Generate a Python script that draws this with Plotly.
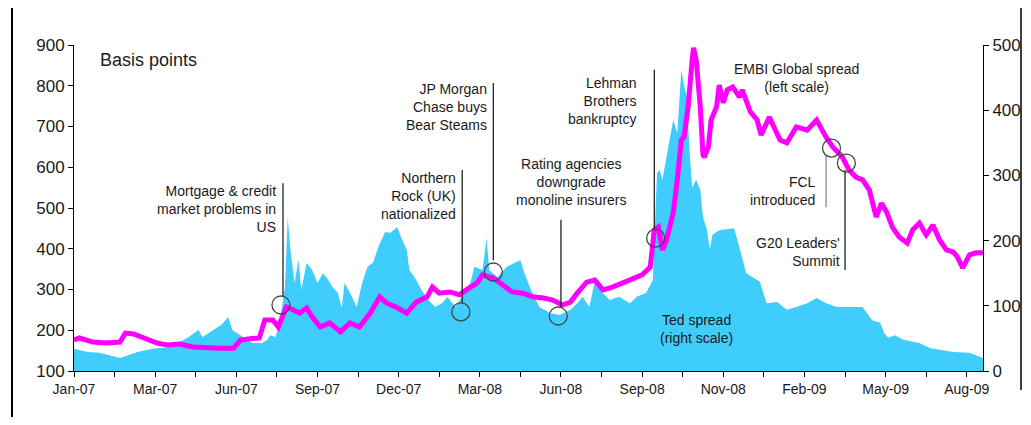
import plotly.graph_objects as go

# trading-day index (0 = start of Jan-07), one tick label every 60 trading days
tick_labels = ["Jan-07", "Mar-07", "Jun-07", "Sep-07", "Dec-07", "Mar-08",
               "Jun-08", "Sep-08", "Nov-08", "Feb-09", "May-09", "Aug-09"]

# TED spread (basis points, right scale)
ted_day = [0, 10, 19, 34, 47, 58, 71, 84, 92, 95, 103, 109, 114, 117, 123, 132, 139, 143, 145, 149,
           152, 156, 158, 160, 163, 166, 168, 172, 176, 180, 184, 188, 191, 195, 198, 200, 204, 209,
           213, 217, 221, 225, 230, 234, 239, 242, 246, 248, 252, 257, 262, 267, 272, 276, 282, 287,
           293, 296, 302, 305, 307, 313, 320, 326, 330, 333, 338, 344, 352, 359, 367, 372, 376, 381,
           385, 389, 396, 403, 411, 416, 423, 428, 431, 433, 435, 438, 443, 446, 449, 451, 453, 455,
           457, 460, 463, 465, 468, 470, 472, 477, 488, 492, 497, 507, 512, 520, 527, 534, 542, 549,
           556, 564, 583, 590, 596, 599, 602, 607, 613, 625, 633, 650, 662, 672]
ted_bp = [34, 29, 28, 20, 29, 34, 37, 51, 63, 52, 63, 71, 83, 63, 55, 43, 43, 48, 55, 52,
          74, 129, 236, 186, 135, 170, 124, 166, 155, 135, 150, 140, 129, 120, 97, 135, 120, 98,
          135, 160, 166, 190, 213, 212, 221, 204, 186, 155, 143, 124, 109, 98, 104, 114, 98, 114,
          135, 160, 155, 204, 155, 144, 160, 166, 170, 150, 124, 98, 89, 86, 94, 104, 114, 98,
          137, 124, 109, 114, 104, 114, 120, 140, 304, 308, 293, 328, 385, 365, 462, 437, 422, 339,
          282, 293, 278, 236, 216, 186, 209, 216, 219, 189, 150, 137, 104, 106, 94, 98, 104, 112,
          104, 98, 98, 78, 74, 58, 51, 55, 48, 43, 35, 29, 28, 20]

# EMBI Global spread (basis points, left scale)
embi_day = [0, 4, 14, 24, 34, 38, 44, 51, 61, 69, 78, 88, 98, 108, 118, 123, 130, 137, 141, 147,
            151, 154, 157, 162, 167, 172, 176, 182, 189, 197, 204, 211, 219, 226, 231, 239, 246, 253,
            261, 265, 270, 278, 285, 290, 298, 302, 310, 317, 324, 332, 339, 347, 354, 361, 367, 372,
            379, 385, 391, 398, 406, 413, 420, 426, 429, 432, 435, 438, 443, 446, 449, 451, 454, 457,
            458, 460, 463, 465, 466, 469, 471, 475, 477, 480, 483, 487, 492, 494, 500, 505, 508, 514,
            522, 527, 534, 542, 549, 556, 561, 568, 573, 578, 583, 588, 593, 597, 601, 605, 610, 616,
            620, 625, 630, 635, 640, 645, 650, 653, 657, 662, 667, 672]
embi_bp = [176, 181, 171, 169, 171, 193, 191, 183, 169, 164, 166, 159, 156, 156, 156, 176, 179, 181, 225, 225,
           208, 230, 257, 250, 242, 255, 233, 208, 218, 196, 218, 208, 242, 282, 267, 255, 242, 269,
           282, 306, 291, 294, 287, 299, 316, 336, 328, 311, 294, 291, 282, 279, 274, 262, 269, 291,
           318, 323, 299, 306, 318, 328, 336, 355, 446, 453, 397, 421, 488, 569, 667, 674, 748, 863,
           893, 863, 748, 630, 625, 650, 716, 748, 802, 758, 790, 797, 772, 790, 736, 716, 679, 723,
           667, 660, 699, 691, 716, 674, 650, 625, 593, 576, 569, 544, 478, 512, 488, 453, 429, 414,
           446, 463, 434, 458, 421, 397, 392, 380, 353, 385, 390, 390]

# event annotations: (text, text x, text y, anchor, line x, line y0, line y1, circle x, circle y, line colour)
events = [
    ("Mortgage & credit<br>market problems in<br>US", 151, 498, "right", 154.5, 561, 282, 153, 262, "#222222"),
    ("Northern<br>Rock (UK)<br>nationalized", 284, 529, "right", 287, 593, 267, 286, 245, "#222222"),
    ("JP Morgan<br>Chase buys<br>Bear Steams", 307, 748, "right", 310, 807, 372, 310, 343, "#222222"),
    ("Rating agencies<br>downgrade<br>monoline insurers", 368, 564, "center", 360, 471, 257, 358, 235, "#222222"),
    ("Lehman<br>Brothers<br>bankruptcy", 417, 763, "right", 429, 839, 446, 430, 426, "#222222"),
    ("FCL<br>introduced", 550, 542, "right", 556, 630, 502, 560, 647, "#888888"),
    ("G20 Leaders'<br>Summit", 568, 392, "right", 570, 593, 348, 571, 610, "#222222"),
]

FONT = "Liberation Sans, Arial, sans-serif"
OFF = 8  # page body margin
W, H = 1015, 409
ML, MR, MT, MB = 66, 40, 37, 46

fig = go.Figure()
fig.add_trace(go.Scatter(x=ted_day, y=ted_bp, mode="lines", fill="tozeroy",
                         line=dict(width=0, color="#3ECDFD"), fillcolor="#3ECDFD",
                         yaxis="y", name="Ted spread", hoverinfo="skip"))
fig.add_trace(go.Scatter(x=embi_day, y=embi_bp, mode="lines",
                         line=dict(width=5, color="#FF00FF"),
                         yaxis="y2", name="EMBI Global spread"))

tickvals = [i * 30 for i in range(23)]
ticktext = [tick_labels[i // 2] if i % 2 == 0 else "" for i in range(23)]

shapes = []
annotations = []
for text, tx, ty, anc, lx, ly0, ly1, cx, cy, lc in events:
    annotations.append(dict(text=text, x=tx, y=ty, xref="x", yref="y2", xanchor=anc,
                            yanchor="middle", align=anc, showarrow=False,
                            font=dict(family=FONT, size=14, color="#1a1a1a")))
    shapes.append(dict(type="line", xref="x", yref="y2", x0=lx, x1=lx, y0=ly0, y1=ly1,
                       line=dict(color=lc, width=1.3)))
    shapes.append(dict(type="circle", xref="x", yref="y2", xsizemode="pixel", ysizemode="pixel",
                       xanchor=cx, yanchor=cy, x0=-9, x1=9, y0=-9, y1=9,
                       line=dict(color="#444444", width=1.3), fillcolor="rgba(0,0,0,0)"))

annotations += [
    dict(text="EMBI Global spread<br>(left scale)", x=534, y=819, xref="x", yref="y2",
         xanchor="center", yanchor="middle", showarrow=False,
         font=dict(family=FONT, size=14, color="#1a1a1a")),
    dict(text="Ted spread<br>(right scale)", x=460, y=203, xref="x", yref="y2",
         xanchor="center", yanchor="middle", showarrow=False,
         font=dict(family=FONT, size=14, color="#1a1a1a")),
    dict(text="Basis points", x=18, y=863, xref="x", yref="y2", xanchor="left",
         yanchor="middle", showarrow=False, font=dict(family=FONT, size=18, color="#1a1a1a")),
]

# outer frame lines of the original picture (page pixel positions)
pw, ph = W - ML - MR, H - MT - MB
def px(xp):
    return (xp - OFF - ML) / pw
def py(yp):
    return (H - MB - (yp - OFF)) / ph
shapes += [
    dict(type="line", xref="paper", yref="paper", x0=px(12), x1=px(12),
         y0=py(0), y1=py(425), line=dict(color="black", width=2)),
    dict(type="line", xref="paper", yref="paper", x0=px(1021), x1=px(1021),
         y0=py(0), y1=py(390), line=dict(color="black", width=1.5)),
]

axis_font = dict(family=FONT, size=17, color="#1a1a1a")
fig.update_layout(
    width=W, height=H, margin=dict(l=ML, r=MR, t=MT, b=MB, autoexpand=False),
    paper_bgcolor="white", plot_bgcolor="white", showlegend=False,
    xaxis=dict(range=[0, 672], tickmode="array", tickvals=tickvals, ticktext=ticktext,
               ticks="outside", ticklen=5, tickcolor="black", showline=True, linecolor="black",
               linewidth=1, showgrid=False, zeroline=False, automargin=False,
               tickfont=dict(family=FONT, size=14, color="#1a1a1a")),
    yaxis=dict(range=[0, 500], side="right", dtick=100, ticks="outside", ticklen=5,
               tickcolor="black", showline=True, linecolor="black", linewidth=1,
               showgrid=False, zeroline=False, automargin=False, tickfont=axis_font),
    yaxis2=dict(range=[100, 900], side="left", overlaying="y", dtick=100, ticks="outside",
                ticklen=5, tickcolor="black", showline=True, linecolor="black", linewidth=1,
                showgrid=False, zeroline=False, automargin=False, tickfont=axis_font),
    shapes=shapes, annotations=annotations,
)

fig.write_html("out.html")
